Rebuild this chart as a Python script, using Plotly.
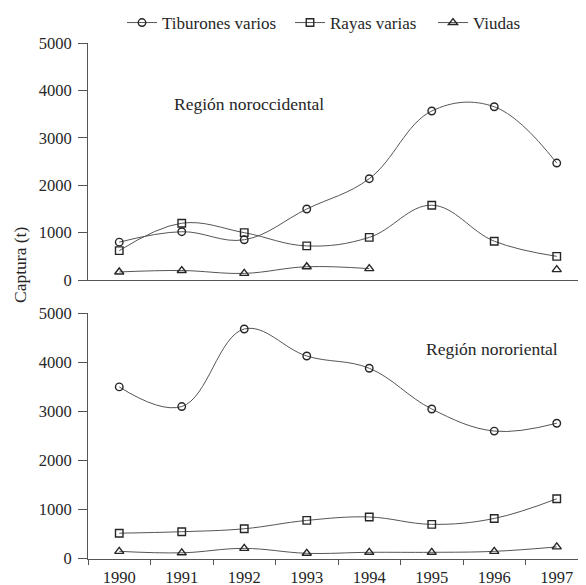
import plotly.graph_objects as go

years = ["1990", "1991", "1992", "1993", "1994", "1995", "1996", "1997"]
series_names = ["Tiburones varios", "Rayas varias", "Viudas"]

noroc_tiburones = [800, 1020, 850, 1500, 2140, 3570, 3660, 2470]
noroc_rayas = [620, 1200, 1000, 720, 900, 1580, 820, 500]
noroc_viudas = [170, 200, 140, 280, 240, None, None, 220]

noror_tiburones = [3500, 3100, 4680, 4130, 3880, 3050, 2600, 2760]
noror_rayas = [520, 550, 610, 780, 850, 700, 820, 1220]
noror_viudas = [150, 120, 210, 110, 130, 130, 150, 240]

y_ticks = [0, 1000, 2000, 3000, 4000, 5000]

FONT = "Liberation Serif"
TXT = "#262626"
LINE = "#555555"
symbols = ["circle-open", "square-open", "triangle-up-open"]
sizes = [7.5, 7.5, 8]
legend_ids = ["legend", "legend2", "legend3"]

# figure pixel geometry (page has an 8px body margin)
H = 585
W = 586
L = 80
R = 6
PW = W - L - R


def px_x(p):
    return (p - L) / PW


def px_y(p):
    return 1 - p / H


fig = go.Figure()

top = [noroc_tiburones, noroc_rayas, noroc_viudas]
bottom = [noror_tiburones, noror_rayas, noror_viudas]

for i, (name, vals) in enumerate(zip(series_names, top)):
    fig.add_trace(go.Scatter(
        x=years, y=vals, name=name, mode="lines+markers",
        line=dict(color=LINE, width=1, shape="spline", smoothing=1.1),
        marker=dict(symbol=symbols[i], size=sizes[i], color=TXT, line=dict(width=1.4, color=TXT)),
        xaxis="x", yaxis="y", showlegend=True, connectgaps=False, legend=legend_ids[i],
    ))
for i, (name, vals) in enumerate(zip(series_names, bottom)):
    fig.add_trace(go.Scatter(
        x=years, y=vals, name=name, mode="lines+markers",
        line=dict(color=LINE, width=1, shape="spline", smoothing=1.1),
        marker=dict(symbol=symbols[i], size=sizes[i], color=TXT, line=dict(width=1.4, color=TXT)),
        xaxis="x2", yaxis="y2", showlegend=False,
    ))

axis_common = dict(showgrid=False, zeroline=False, showline=True, linecolor=LINE, linewidth=1)
tickfont = dict(family=FONT, size=16.5, color=TXT)

legend_common = dict(orientation="h", xanchor="left", y=px_y(15), yanchor="middle",
                     font=dict(family=FONT, size=17, color=TXT),
                     bgcolor="rgba(0,0,0,0)", borderwidth=0)

ann_common = dict(xref="paper", yref="paper", showarrow=False,
                  xanchor="center", yanchor="middle")

fig.update_layout(
    width=W, height=H,
    margin=dict(l=L, r=R, t=0, b=0, autoexpand=False),
    paper_bgcolor="white", plot_bgcolor="white",
    font=dict(family=FONT, size=16, color=TXT),
    xaxis=dict(type="category", categoryorder="array", categoryarray=years,
               range=[-0.5, 7.5], domain=[0, 1], anchor="y",
               showticklabels=False, ticks="", **axis_common),
    yaxis=dict(range=[0, 5000], domain=[px_y(272), px_y(35.3)], anchor="x",
               tickvals=y_ticks, ticks="outside", ticklen=9, tickcolor=LINE,
               ticklabelstandoff=3, tickfont=tickfont, **axis_common),
    xaxis2=dict(type="category", categoryorder="array", categoryarray=years,
                range=[-0.5, 7.5], domain=[0, 1], anchor="y2",
                ticks="outside", tickson="boundaries", ticklen=5, tickcolor=LINE,
                ticklabelstandoff=3, tickfont=tickfont, **axis_common),
    yaxis2=dict(range=[0, 5000], domain=[px_y(550.7), px_y(305.3)], anchor="x2",
                tickvals=y_ticks, ticks="outside", ticklen=9, tickcolor=LINE,
                ticklabelstandoff=3, tickfont=tickfont, **axis_common),
    legend=dict(x=px_x(114), **legend_common),
    legend2=dict(x=px_x(282), **legend_common),
    legend3=dict(x=px_x(425), **legend_common),
    annotations=[
        dict(text="Región noroccidental", x=px_x(240.5), y=px_y(96),
             font=dict(family=FONT, size=17.5, color=TXT), **ann_common),
        dict(text="Región nororiental", x=px_x(484), y=px_y(341),
             font=dict(family=FONT, size=17.5, color=TXT), **ann_common),
        dict(text="Captura (t)", x=px_x(12), y=px_y(257), textangle=-90,
             font=dict(family=FONT, size=17.5, color=TXT), **ann_common),
    ],
)

fig.write_html("out.html")
